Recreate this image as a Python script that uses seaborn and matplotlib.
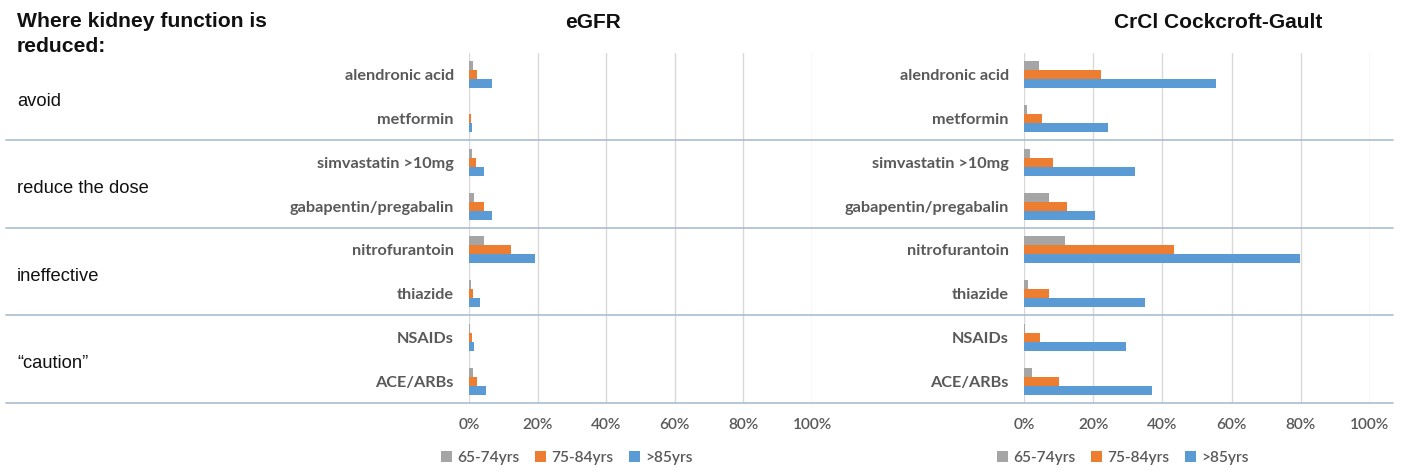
import matplotlib
matplotlib.use("Agg")
import matplotlib.pyplot as plt
import matplotlib.transforms as mtransforms
from matplotlib.lines import Line2D
from matplotlib.ticker import PercentFormatter
import seaborn as sns
import pandas as pd

# data (percent of patients)
drugs = ["alendronic acid", "metformin", "simvastatin >10mg", "gabapentin/pregabalin",
         "nitrofurantoin", "thiazide", "NSAIDs", "ACE/ARBs"]
groups = ["avoid", "reduce the dose", "ineffective", "\u201ccaution\u201d"]
ages = ["65-74yrs", "75-84yrs", ">85yrs"]

egfr_65_74 = [1.2, 0.1, 0.8, 1.5, 4.3, 0.7, 0.2, 1.3]
egfr_75_84 = [2.4, 0.5, 2.1, 4.3, 12.1, 1.3, 0.8, 2.2]
egfr_85 = [6.8, 1.0, 4.3, 6.6, 19.3, 3.2, 1.6, 4.9]

crcl_65_74 = [4.4, 0.8, 1.6, 7.2, 11.7, 1.2, 0.4, 2.2]
crcl_75_84 = [22.3, 5.3, 8.5, 12.5, 43.3, 7.2, 4.6, 10.2]
crcl_85 = [55.4, 24.3, 32.1, 20.5, 79.8, 35.0, 29.4, 37.1]

palette = ["#A5A5A5", "#ED7D31", "#5B9BD5"]
label_grey = "#595959"
sep_color = "#A9BDD2"


def long_frame(s1, s2, s3):
    rows = []
    for age, vals in zip(ages, [s1, s2, s3]):
        for d, v in zip(drugs, vals):
            rows.append({"drug": d, "age": age, "pct": v})
    return pd.DataFrame(rows)


sns.set_theme(style="white")
plt.rcParams["font.family"] = ["Lato", "DejaVu Sans"]

fig = plt.figure(figsize=(14.08, 4.73), dpi=100)
ax1 = fig.add_axes([0.3331, 0.148, 0.2436, 0.740])
ax2 = fig.add_axes([0.7273, 0.148, 0.2457, 0.740])

for ax, df, title, tx in [(ax1, long_frame(egfr_65_74, egfr_75_84, egfr_85), "eGFR", 0.421),
                          (ax2, long_frame(crcl_65_74, crcl_75_84, crcl_85), "CrCl Cockcroft-Gault", 0.865)]:
    sns.barplot(data=df, x="pct", y="drug", hue="age", order=drugs, hue_order=ages,
                palette=palette, width=0.62, saturation=1, orient="h", linewidth=0, ax=ax)
    ax.set_xlim(0, 100)
    ax.set_ylim(7.5, -0.5)
    ax.xaxis.set_major_formatter(PercentFormatter(100, decimals=0))
    ax.set_xticks([0, 20, 40, 60, 80, 100])
    ax.grid(axis="x", color="#D9D9D9", linewidth=1)
    ax.set_axisbelow(True)
    for s in ax.spines.values():
        s.set_visible(False)
    ax.tick_params(axis="both", length=0, labelcolor=label_grey)
    ax.tick_params(axis="y", pad=11)
    ax.tick_params(axis="x", pad=11)
    for lab in ax.get_yticklabels():
        lab.set_fontweight("bold")
        lab.set_fontsize(11.7)
    for lab in ax.get_xticklabels():
        lab.set_fontsize(11.2)
        lab.set_fontweight("semibold")
    ax.set_xlabel("")
    ax.set_ylabel("")
    handles, labels = ax.get_legend_handles_labels()
    ax.legend(handles, labels, loc="center", bbox_to_anchor=(0.285, -0.157), ncol=3,
              frameon=False, handlelength=0.7, handleheight=0.7, handletextpad=0.35,
              columnspacing=1.0, prop={"size": 11.2, "weight": "semibold"},
              labelcolor=label_grey)
    fig.text(tx, 0.953, title, ha="center", va="center", fontsize=15, fontweight="bold",
             family=["Liberation Sans", "DejaVu Sans"], color="#111111")

# separators between the groups, running across the whole figure
trans = mtransforms.blended_transform_factory(fig.transFigure, ax1.transData)
for yb in [1.5, 3.5, 5.5, 7.5]:
    fig.add_artist(Line2D([0.004, 0.989], [yb, yb], transform=trans,
                          color=sep_color, linewidth=1.2))

# group labels on the left
for i, g in enumerate(groups):
    fig.text(0.012, 2 * i + 0.6, g, transform=trans, ha="left", va="center",
             fontsize=13.2, family=["Liberation Sans", "DejaVu Sans"], color="#111111")

fig.text(0.012, 0.975, "Where kidney function is\nreduced:", ha="left", va="top",
         fontsize=15.2, fontweight="bold", family=["Liberation Sans", "DejaVu Sans"],
         color="#111111", linespacing=1.4)

fig.savefig("out.png", dpi=100)
